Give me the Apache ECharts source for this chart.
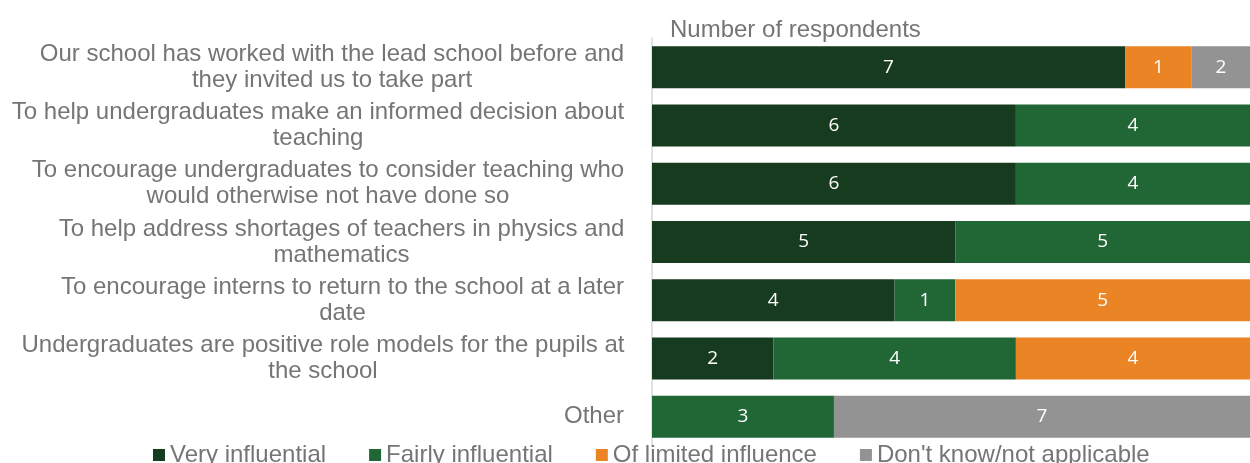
<!DOCTYPE html>
<html lang="en">
<head>
    <meta charset="UTF-8">
    <title>Reasons for taking part</title>
    <script src="https://cdn.jsdelivr.net/npm/echarts@6/dist/echarts.min.js"></script>
    <style>
        html, body { margin: 0; padding: 0; background: #fff; }
        #main { width: 1250px; height: 463px; }
    </style>
</head>
<body>
<div id="main"></div>

<script>
    var reasons = [
        'Our school has worked with the lead school before and\nthey invited us to take part',
        'To help undergraduates make an informed decision about\nteaching',
        'To encourage undergraduates to consider teaching who\nwould otherwise not have done so',
        'To help address shortages of teachers in physics and\nmathematics',
        'To encourage interns to return to the school at a later\ndate',
        'Undergraduates are positive role models for the pupils at\nthe school',
        'Other'
    ];
    var seriesNames = ['Very influential', 'Fairly influential', 'Of limited influence', "Don't know/not applicable"];
    var colors = ['#173b1e', '#216735', '#ea8424', '#939393'];

    // numbers printed on the bars
    var veryCount     = [7, 6, 6, 5, 4, 2, 0];
    var fairlyCount   = [0, 4, 4, 5, 1, 4, 3];
    var limitedCount  = [1, 0, 0, 0, 5, 4, 0];
    var dontKnowCount = [2, 0, 0, 0, 0, 0, 7];

    // bar lengths as drawn (the top bar is drawn longer than its printed numbers)
    var veryLen     = [7.8, 6, 6, 5, 4, 2, 0];
    var fairlyLen   = [0, 4, 4, 5, 1, 4, 3];
    var limitedLen  = [1.1, 0, 0, 0, 5, 4, 0];
    var dontKnowLen = [1.1, 0, 0, 0, 0, 0, 7];

    var counts = [veryCount, fairlyCount, limitedCount, dontKnowCount];
    var lens = [veryLen, fairlyLen, limitedLen, dontKnowLen];

    var txtColor = '#757575';
    var fontFam = '"Liberation Sans", Arial, sans-serif';
    var labelSize = 24;

    // each label block is right aligned, its lines centred (like the original)
    var ctx = document.createElement('canvas').getContext('2d');
    ctx.font = labelSize + 'px ' + fontFam;
    var rich = {};
    reasons.forEach(function (r, i) {
        var w = 0;
        r.split('\n').forEach(function (l) {
            w = Math.max(w, ctx.measureText(l).width);
        });
        rich['r' + i] = {
            width: Math.ceil(w) + 1,
            align: 'center',
            fontSize: labelSize,
            lineHeight: 26,
            color: txtColor,
            fontFamily: fontFam
        };
    });

    var myChart = echarts.init(document.getElementById('main'));

    var series = seriesNames.map(function (name, s) {
        return {
            name: name,
            type: 'bar',
            stack: 'total',
            barWidth: 42,
            itemStyle: { color: colors[s] },
            label: {
                show: true,
                position: 'inside',
                color: '#fff',
                fontSize: 19,
                fontFamily: '"Open Sans", sans-serif',
                formatter: function (p) {
                    var c = counts[s][p.dataIndex];
                    return c ? String(c) : '';
                }
            },
            data: lens[s]
        };
    });

    var option = {
        animation: false,
        title: {
            text: 'Number of respondents',
            left: 665,
            top: 13,
            textStyle: { fontSize: 24, color: txtColor, fontWeight: 'normal', fontFamily: fontFam }
        },
        legend: {
            data: seriesNames,
            left: 153,
            top: 443,
            padding: 0,
            icon: 'rect',
            itemWidth: 12,
            itemHeight: 12,
            itemGap: 43,
            textStyle: { fontSize: 24, color: txtColor, fontFamily: fontFam }
        },
        // the axis runs past the right edge of the picture (10 sits just off screen)
        grid: { left: 652, top: 38, right: 0, height: 408 },
        xAxis: {
            type: 'value',
            min: 0,
            max: 9.86,
            show: false
        },
        yAxis: {
            type: 'category',
            inverse: true,
            data: reasons,
            axisTick: { show: false },
            axisLine: { lineStyle: { color: '#d9d9d9', width: 1.5 } },
            axisLabel: {
                margin: 27,
                rich: rich,
                formatter: function (value, index) {
                    return value.split('\n').map(function (l) {
                        return '{r' + index + '|' + l + '}';
                    }).join('\n');
                }
            }
        },
        series: series
    };

    myChart.setOption(option);
</script>
</body>
</html>
